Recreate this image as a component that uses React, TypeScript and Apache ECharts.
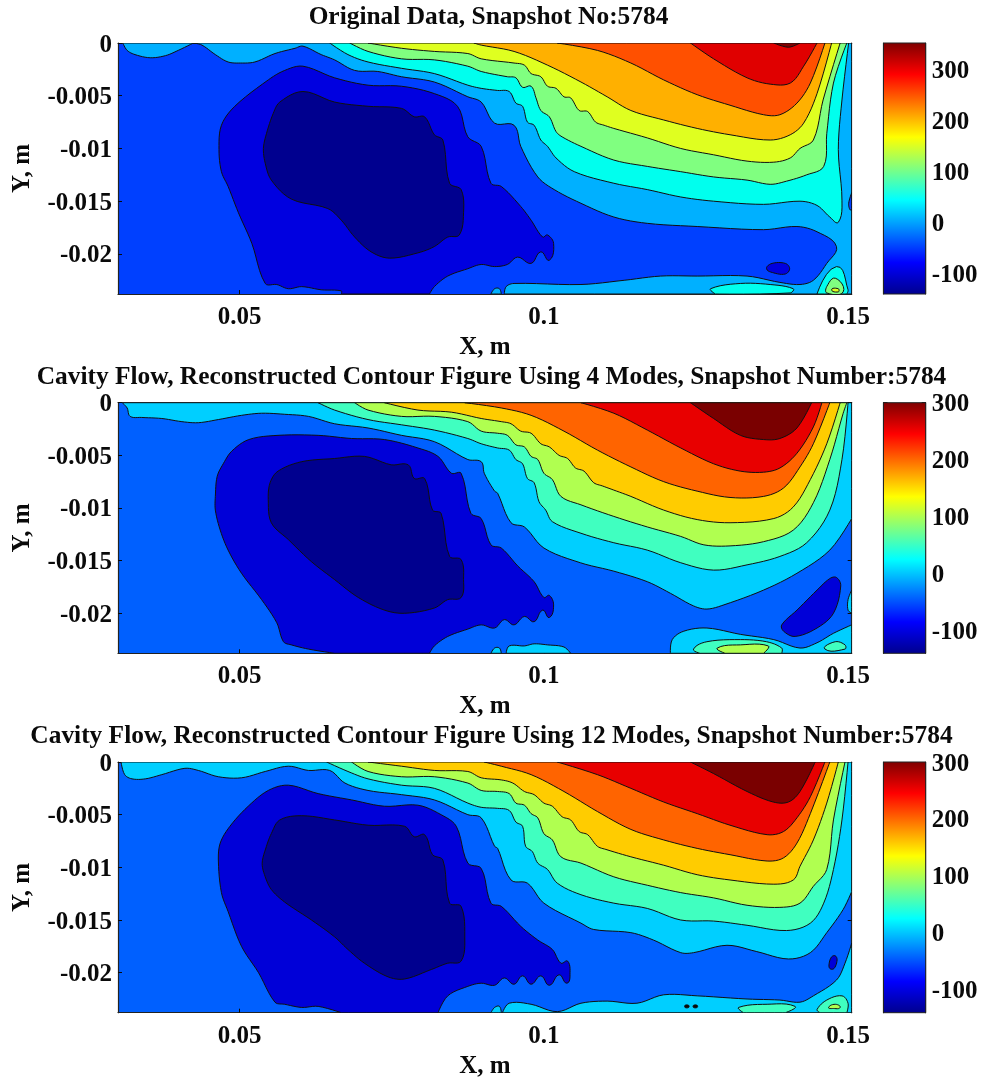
import React, { useEffect, useRef } from "react";
import * as echarts from "echarts";

// ---------- axis data ----------
const xRange = [0.03, 0.1506];
const yRange = [-0.0238, 0];
const xTickValues = [0.05, 0.1, 0.15];
const yTickValues = [0, -0.005, -0.01, -0.015, -0.02];
const barTicks1 = [-100, 0, 100, 200, 300];
const barTicks2 = [-100, 0, 100, 200, 300];
const barRange1 = [-141, 351];
const barRange2 = [-141, 300];
const titles = [
  "Original Data, Snapshot No:5784",
  "Cavity Flow, Reconstructed Contour Figure Using 4 Modes, Snapshot Number:5784",
  "Cavity Flow, Reconstructed Contour Figure Using 12 Modes, Snapshot Number:5784",
];

// ---------- contour outlines, flat x,y lists in millimetres ----------
const p1L1 = [30.8,0,31.5,-0.7,32.8,-1.1,35.3,-1.4,37.8,-1.2,39.9,-0.7,42.4,0,43.8,-0.2,46,-1.1,48.1,-1.8,50.1,-1.9,52.5,-1.8,55.8,-1,59.1,-0.5,60.4,-0.3,63.4,-1.1,65.6,-1.6,68.9,-2.6,72.7,-2.7,76.6,-3.2,82,-3.7,87.5,-5.1,89.7,-5.6,91.9,-7.6,95.1,-7.8,96.2,-9.8,99,-12.7,101.7,-13.9,106.1,-15.2,111.5,-16.5,117,-17.1,125.2,-17.4,136.1,-17.7,141.6,-17.4,144.9,-17.9,148.1,-19.3,146.5,-20.9,144.3,-22.5,142.1,-22.9,138.8,-22.7,133.4,-22.1,125.2,-22.1,119.2,-22.1,113.2,-22.5,106.1,-22.9,95.1,-22.8,93.8,-23.1,93.5,-23.8,150.6,-23.8,150.6,0];
const p1L2 = [64.8,0,67.8,-1.1,71.1,-1.8,76.6,-2.4,82,-2.9,87.5,-4,89.7,-4.3,92.4,-4.5,94.3,-4.6,95.4,-5.7,96.5,-6,97.3,-7.5,98.4,-7.8,99.5,-9.2,100.6,-9.8,102,-10.9,105,-12.2,111.5,-13.3,117,-13.9,122.5,-14.6,127.9,-15,136.1,-15.3,142.1,-15,144.9,-15.4,147,-16.5,148.4,-17,149,-14.9,148.4,-10.1,149,-5.4,150.1,0];
const p1L3 = [68.1,0,71.1,-0.8,76.6,-1.5,82,-1.6,87.5,-2.2,89.7,-2.7,94,-3.2,95.4,-3.3,96.5,-4.2,97.9,-4.1,98.7,-5.2,99.5,-6.4,100.9,-7,102,-8.4,103,-8.9,106.1,-9.8,111.5,-11.1,117,-11.7,122.5,-12.2,127.9,-12.7,133.4,-13,137.2,-13.4,139.9,-13.1,143.2,-12.5,146,-11.7,146.5,-8.6,147.6,-3.8,149.8,0];
const p1L4 = [71.1,0,76.6,-0.5,82,-0.8,87.5,-1,89.7,-1.5,95.1,-1.9,96.8,-2.1,97.9,-2.9,99.5,-3.2,100.6,-4.1,102,-4.3,103.3,-5.1,104.4,-5.2,105.8,-6.4,107.2,-6.5,108.5,-7.5,109.9,-7.8,111.5,-8.1,117,-9,122.5,-10,127.9,-10.6,133.4,-11.2,137.8,-11.3,140.5,-10.9,142.1,-10,144.3,-9.2,145.9,-5.4,148.7,0];
const p1L5 = [88.5,0,89.7,-0.2,95.1,-0.8,100.6,-2.1,106.1,-3.7,110.4,-5.1,114.3,-6.4,119.7,-7.3,125.2,-8.1,130.6,-8.7,137.2,-9.2,140.5,-8.7,142.7,-7.6,144.9,-4.8,147.3,0];
const p1L6 = [102.2,0,108.8,-0.7,114.3,-1.9,119.7,-3.5,125.2,-4.9,130.6,-5.9,136.1,-6.8,138.8,-6.8,141.6,-5.7,143.8,-3.8,146.2,0];
const p1L7 = [124.1,0,127.9,-1.5,133.4,-3.3,137.2,-3.9,140.5,-3.8,142.7,-2.2,144.9,0];
const p1L8 = [137.8,0,140.2,-0.4,142.1,0];
const p1D1 = [60.4,-2.2,65.6,-3.3,71.1,-4,76.6,-4.1,82,-4.8,85.8,-6,87.5,-8.9,89.7,-9.8,91.3,-13.3,93,-13.6,96.2,-15.5,97.9,-16.8,99.8,-18.4,100.6,-18.2,101.6,-19,100.9,-20.6,99.5,-19.8,97.9,-20.9,95.7,-20.3,94,-21,91.9,-21.2,89.7,-21,87.5,-21.4,84.2,-22.1,82,-23.1,81.2,-23.8,66.7,-23.8,66.7,-23.5,63.4,-23.4,60.2,-23.1,58,-23.3,56.1,-22.9,54.2,-22.8,52,-19,49.8,-16.1,48.1,-13.6,47,-12.2,46.6,-10.1,47,-7.8,49.2,-6,54.7,-3.5,57.4,-2.6];
const p1D2 = [53.9,-10,54.4,-8.6,55.5,-6.7,56.6,-5.6,60.4,-4.6,65.6,-5.6,71.1,-6,76.6,-6.2,78.7,-7,80.4,-7,82,-8.7,83.4,-9.2,84.5,-13.3,86.4,-13.9,86.8,-16.1,86.1,-18.2,84.2,-18.4,82,-19.3,79.3,-19.9,74.6,-20.4,71.6,-19.8,68.9,-18.4,66.7,-16.8,64.5,-15.7,58.5,-14.8,55.2,-13,54.2,-11.4];
const p1Blob = [137.5,-20.9,139.7,-20.9,140.4,-21.4,139.7,-21.9,137.8,-21.8,136.6,-21.4];
const p1Corner2 = [144.9,-23.8,148.1,-21.2,150,-23.4,149.8,-23.8];
const p1Corner3 = [146.5,-23.1,147.9,-22.3,149.2,-23.6,146.5,-23.7];
const p1Corner4 = [147.3,-23.4,148.4,-23.3,148.4,-23.6];
const p1Patch = [127.4,-23.3,132.3,-22.8,137.2,-22.9,141,-23.3,140.5,-23.7,128.2,-23.8];
const p1Bump = [91.3,-23.8,91.9,-23.3,92.7,-23.3,93,-23.8];
const p1Edge = [150.6,-14.2,150.1,-15.2,150.3,-15.8,150.6,-15.8];

const p2L1 = [30.7,0,31.5,-0.5,32,-1.3,33.9,-1.4,37.2,-1.5,40.5,-1.8,43.2,-1.9,46.5,-1.6,50.3,-1.2,53.6,-1,57.4,-1.1,61.3,-1.3,65.6,-2,71.1,-2.4,76.6,-3.1,82,-3.7,87.5,-5.4,89.7,-5.6,90.2,-6.7,91.9,-8.4,92.4,-8.6,94.6,-11.4,96.8,-11.8,100,-13.8,106,-15.2,111.5,-16,117,-17,120.8,-18.1,124.6,-19.3,126.8,-19.6,129.6,-19.2,136.1,-17.8,141.6,-16.2,147,-14,150.6,-11,150.6,0];
const p2L2 = [62.9,0,65.6,-0.7,71.1,-1.6,76.6,-2.1,82,-2.6,87.5,-3.4,89.7,-3.9,92.4,-4.3,94.3,-4.5,95.4,-5.4,96.5,-5.8,97.3,-7.2,98.4,-7.6,99.2,-9.4,100.3,-10.2,101.4,-11.3,106.1,-12.4,111.5,-13.3,117,-14,122.5,-15.2,127.9,-15.9,133.4,-15.4,138.8,-14.6,143.2,-13.3,147,-10.2,149,-5.4,150,0];
const p2L3 = [68.9,0,71.1,-0.7,76.6,-1.3,82,-1.3,87.5,-1.8,89.7,-2.7,92.4,-2.9,94,-3.1,95.4,-4,96.8,-4.2,97.9,-5.1,99,-5.4,100,-6.7,101.4,-7.3,102.8,-8.9,106.1,-9.7,111.5,-10.8,117,-11.8,122.5,-12.7,126.3,-13.5,130.6,-13.6,136.1,-13.2,141,-12.1,144.3,-9.5,147,-5.4,149.2,-1,149.8,0];
const p2L4 = [73.8,0,79.3,-0.7,84.8,-0.9,89.7,-1.5,93,-1.8,94.6,-2,96.2,-2.7,97.9,-2.9,99.5,-3.9,100.9,-4.2,102.5,-5,103.9,-5.3,105.2,-6.2,106.6,-6.5,108.2,-7.6,109.6,-7.9,111.5,-8.3,114.3,-8.9,119.7,-10.2,125.2,-11.1,130.6,-11.4,137.8,-11,141,-9.9,143.8,-7.3,146.5,-3.9,148.7,0];
const p2L5 = [87,0,93,-0.5,97.9,-1.2,103.3,-2.7,108.8,-4.5,114.3,-6.1,119.7,-7.5,125.2,-8.4,130.6,-9,136.1,-8.9,139.4,-8.1,142.1,-6.1,144.3,-3.9,147,0];
const p2L6 = [106.1,0,111.5,-1,117,-2.6,122.5,-4.3,127.9,-5.8,132.3,-6.5,136.1,-6.6,138.8,-6.2,141.6,-4.8,144.3,-2.3,145.7,0];
const p2L7 = [124.1,0,127.9,-1.5,132.3,-3.1,136.1,-3.5,138.8,-3.4,141.6,-2.4,144,0];
const p2D1 = [46,-8.9,46.3,-7,47.3,-5.8,48.7,-4.6,51.5,-3.5,56.3,-3.1,62.9,-3.1,68.4,-3.4,73.8,-3.5,79.3,-4.3,82.6,-5.1,84.8,-6.7,86.4,-6.7,88,-10.5,89.7,-11,91.3,-13.5,93,-13.8,95.7,-15.5,98.4,-17,100,-18.5,100.9,-18.3,101.6,-19.2,100.9,-20.4,99.8,-19.7,98.4,-20.8,96.8,-20.3,95.1,-21.1,93.5,-20.6,91.9,-21.4,89.7,-21.1,87.5,-21.5,84.2,-22.2,82,-23.1,81.2,-23.8,65.6,-23.8,61.3,-23.4,58.5,-23,57.2,-22.7,56.1,-20.9,53.6,-18.7,50.3,-16.2,48.1,-14,46.8,-12.1,46,-10.2];
const p2D2 = [54.7,-9.2,55,-7.6,56.3,-6.5,60.2,-5.6,65.6,-5.3,70.5,-5.1,74.9,-5.9,77.7,-5.9,78.7,-7.2,80.4,-7.2,81.7,-10.2,83.1,-10.5,84.5,-14.6,86.4,-14.9,86.8,-16.8,86.4,-18.5,84.2,-18.7,82,-19.5,77.1,-20,73.8,-19.7,69.5,-18.5,65.6,-16.8,61.8,-15.1,58,-13,55.2,-11.4];
const p2Blob = [148.1,-16.6,148.8,-17.4,147.6,-20,144.9,-21.4,141.3,-22.2,139.4,-21.7,139.1,-21.1,141.6,-19.7,144.9,-17.8,147,-16.7];
const p2Patch1 = [120.8,-23.8,121.1,-22.5,123,-21.7,126.8,-21.4,132.3,-22,137.8,-22.5,142.1,-23.3,144.9,-22.8,147.6,-21.9,150.6,-21.1,150.6,-23.8];
const p2Patch2 = [124.6,-23.4,126.8,-22.7,132.3,-22.5,136.6,-22.7,139.1,-23.3,139.1,-23.8,125.7,-23.8];
const p2Patch3 = [128.5,-23.3,132.3,-23,136.9,-23.1,136.1,-23.8,129.8,-23.8];
const p2Small = [146.2,-23.4,147.9,-22.7,149.5,-23,149.5,-23.4];
const p2Strip = [93.8,-23.8,94.3,-23.1,96.8,-23.1,98.4,-22.9,100.6,-23,103.3,-23.2,104.4,-23.8];
const p2Bump = [91.3,-23.8,91.9,-23.3,92.7,-23.3,93,-23.8];
const p2Edge = [150.6,-17.8,150,-18.7,150,-19.7,150.6,-20];

const p3L1 = [30.5,0,31.1,-1.2,32.3,-1.6,34.5,-1.6,37.2,-1.2,41,-0.6,43.2,-0.8,46.5,-1.4,50.3,-1.5,54.2,-0.9,58,-0.4,61.3,-0.8,64.8,-0.8,67.3,-2,71.1,-2.7,76.6,-3.1,82,-3.6,87.5,-5,89.7,-5.3,91.9,-8,92.4,-8.2,94.6,-11.2,97.3,-11.5,100,-13.4,106.1,-15.3,108.2,-15.9,114.3,-16.2,118,-16.9,122.5,-18.1,124.6,-18.1,130.1,-17.4,135,-18,140.2,-18.7,143.8,-18.1,146.5,-16.2,149.2,-14,150.6,-12.3,150.6,0];
const p3Low = [150.6,-17.2,149.5,-19.1,148.1,-20.7,144.3,-22.2,142.1,-22.8,138.8,-22.6,133.4,-22.5,125.2,-22.2,119.7,-22.1,115.3,-22.9,110.4,-22.7,106.1,-22.9,102.2,-23.7,97.9,-23,94.3,-22.9,93.2,-23.8,150.6,-23.8];
const p3L2 = [64.3,0,67.8,-0.9,71.1,-1.6,76.6,-2.2,82,-2.5,87.5,-3.9,89.7,-4.3,92.4,-4.4,94.3,-4.6,95.4,-5.7,96.5,-6.1,97,-8,98.1,-8.5,99,-9.6,100.6,-10.2,102.2,-11.5,106.1,-12.6,111.5,-13.4,117,-13.9,122.5,-15,127.9,-15.1,133.4,-15.5,139.9,-16,143.8,-15.3,146,-13.4,147.6,-10.2,149,-5.5,150,0];
const p3L3 = [68.4,0,71.1,-0.9,76.6,-1.4,82,-1.4,87.5,-2,89.7,-2.7,92.4,-2.8,94.3,-3,95.4,-3.9,96.8,-4.1,97.9,-4.9,99,-5.3,100,-6.8,101.4,-7.4,102.8,-9,106.1,-9.6,111.5,-10.9,117,-11.7,122.5,-12.4,127.9,-12.9,133.4,-13.6,138.8,-13.8,142.1,-13.4,144.3,-11.8,146.5,-10.2,147.6,-5.5,149.5,0];
const p3L4 = [71.1,0,76.6,-0.4,82,-0.8,87.5,-0.9,89.7,-1.5,93,-1.7,94.9,-2,96.8,-2.8,98.4,-3.1,100,-3.9,101.4,-4.2,103,-5.2,104.4,-5.5,105.8,-6.6,107.2,-6.9,108.8,-8,110.2,-8.3,114.3,-9,119.7,-9.8,125.2,-10.7,130.6,-11.2,137.8,-11.6,141,-11.2,142.1,-9.9,144.3,-7.4,146.5,-3.9,148.4,0];
const p3L5 = [90.2,0,93,-0.4,97.9,-1.2,103.3,-2.8,108.8,-4.7,114.3,-6.4,119.7,-7.4,125.2,-8.2,130.6,-8.8,136.7,-9.4,139.4,-9.1,141.6,-7.7,143.8,-4.9,147,0];
const p3L6 = [102.2,0,108.8,-1.2,114.3,-2.5,119.7,-3.8,125.2,-4.9,130.6,-6,136.7,-6.9,139.4,-6.6,141.6,-5.3,143.8,-3.3,146.2,0];
const p3L7 = [124.1,0,127.9,-1.1,133.4,-2.8,137.7,-3.8,140.2,-3.8,142.1,-2.8,144.6,0];
const p3D1 = [46.5,-9.4,46.8,-7.7,48.4,-6.1,51.4,-4.2,54.7,-2.7,58,-2.2,62.9,-3,68.4,-3.6,73.8,-4.2,79.3,-4.1,83.1,-5,85.6,-6.1,87.5,-9.6,89.7,-10.1,91.3,-13.4,93,-13.7,96.2,-15.6,99,-16.9,101.4,-17.8,102.8,-19.1,103.9,-18.9,104.3,-20,103.8,-21,102.5,-20.2,100.9,-21.2,99.5,-20.3,97.9,-21.1,96.5,-20.3,95.1,-21.1,93.5,-20.5,91.9,-21.2,89.7,-21,87.5,-21.3,84.2,-22.2,82.6,-23.8,66.7,-23.8,62.9,-23.2,60.2,-23.3,57.4,-23,55.8,-22.8,53.1,-20,50.3,-17.5,48.1,-14.2,47,-12.4];
const p3D2 = [53.7,-9.6,54.4,-8,55.2,-6.8,56.6,-5.5,60.2,-5.1,65.6,-5.5,71.1,-6,77.1,-6.1,78.7,-7.1,80.4,-6.9,81.7,-8.8,83.4,-9.3,84.5,-13.4,86.4,-13.7,87,-16.6,86.4,-18.9,84.2,-19.1,81.5,-19.7,77.1,-20.6,74.4,-20.4,70.5,-19.1,67.8,-17.8,65.6,-16.6,61.8,-15,57.4,-13.3,55.2,-12.1,54.2,-10.9];
const p3Blob = [147.9,-18.4,148.2,-18.8,147.7,-19.6,147,-19.6,146.9,-19.1,147.3,-18.5];
const p3Patch = [132,-23.3,136.7,-23,141.3,-23.2,139.7,-23.8,132.8,-23.8];
const p3Corner2 = [144.9,-23.5,146.5,-22.6,149,-22.2,150,-22.9,149.8,-23.8,145.4,-23.8];
const p3Corner3 = [146.8,-23.3,147.9,-23,148.7,-23.3,147.6,-23.4];
const p3Bump = [91.3,-23.8,91.9,-23.3,92.7,-23.2,93,-23.8];
const p3DotA = [123.2,-23.1,123.8,-23.1,123.8,-23.3,123.2,-23.3];
const p3DotB = [124.6,-23.1,125.2,-23.1,125.2,-23.3,124.6,-23.3];

// ---------- styles ----------
const FONT = "Liberation Serif";
const INK = "#0a0a0a";
const P1 = { bg: "#0040ff", d2: "#00008f", d1: "#0000e0", l1: "#00b0ff", l2: "#00ffee", l3: "#80ff80", l4: "#dfff20", l5: "#ffb000", l6: "#ff5000", l7: "#e00000", l8: "#800000" };
const P2 = { bg: "#0060ff", d2: "#00008f", d1: "#0000d8", l1: "#00cfff", l2: "#40ffc0", l3: "#b0ff50", l4: "#ffcc00", l5: "#ff6400", l6: "#e80000", l7: "#7a0000" };

const panels: any[] = [
  { top: 43, height: 251, bar: barRange1, ticks: barTicks1, bg: P1.bg, title: titles[0], titleTop: -3, titleX: 483.5, regions: [
    [p1L1, P1.l1], [p1Bump, P1.l1], [p1L2, P1.l2], [p1L3, P1.l3], [p1L4, P1.l4], [p1L5, P1.l5], [p1L6, P1.l6], [p1L7, P1.l7], [p1L8, P1.l8],
    [p1D1, P1.d1], [p1D2, P1.d2], [p1Blob, P1.d1], [p1Corner2, P1.l2], [p1Corner3, P1.l3], [p1Corner4, P1.l4], [p1Patch, P1.l2], [p1Edge, P1.bg],
  ] },
  { top: 402.7, height: 250.6, bar: barRange2, ticks: barTicks2, bg: P2.bg, title: titles[1], titleTop: 357, titleX: 486.5, regions: [
    [p2L1, P2.l1], [p2L2, P2.l2], [p2L3, P2.l3], [p2L4, P2.l4], [p2L5, P2.l5], [p2L6, P2.l6], [p2L7, P2.l7],
    [p2D1, P2.d1], [p2D2, P2.d2], [p2Blob, P2.d1], [p2Patch1, P2.l1], [p2Patch2, P2.l2], [p2Patch3, P2.l3], [p2Small, P2.l2], [p2Strip, P2.l1], [p2Bump, P2.l1], [p2Edge, P2.l1],
  ] },
  { top: 762, height: 250.7, bar: barRange2, ticks: barTicks2, bg: P2.bg, title: titles[2], titleTop: 716, titleX: 486.5, regions: [
    [p3L1, P2.l1], [p3Low, P2.l1], [p3Bump, P2.l1], [p3L2, P2.l2], [p3L3, P2.l3], [p3L4, P2.l4], [p3L5, P2.l5], [p3L6, P2.l6], [p3L7, P2.l7],
    [p3D1, P2.d1], [p3D2, P2.d2], [p3Blob, P2.d1], [p3Patch, P2.l2], [p3Corner2, P2.l2], [p3Corner3, P2.l3], [p3DotA, INK], [p3DotB, INK],
  ] },
];

const jetStops = [
  { offset: 0, color: "#800000" },
  { offset: 0.125, color: "#ff0000" },
  { offset: 0.375, color: "#ffff00" },
  { offset: 0.625, color: "#00ffff" },
  { offset: 0.875, color: "#0000ff" },
  { offset: 1, color: "#00008f" },
];

const labelStyle = { fontFamily: FONT, fontWeight: "bold", fontSize: 25, color: INK };

// Rounds an outline (already mapped through the axes) for drawing; vertices on the plot edge stay sharp.
function roundOutline(px: number[][], sharp: boolean[]): number[][] {
  const n = px.length;
  const out: number[][] = [];
  const tan = px.map((p, i) => {
    if (sharp[i]) return null;
    const a = px[(i - 1 + n) % n];
    const b = px[(i + 1) % n];
    const dx = b[0] - a[0];
    const dy = b[1] - a[1];
    const l = Math.hypot(dx, dy) || 1;
    return [dx / l, dy / l];
  });
  for (let i = 0; i < n; i++) {
    const j = (i + 1) % n;
    const p = px[i];
    const q = px[j];
    const len = Math.hypot(q[0] - p[0], q[1] - p[1]);
    const ti = tan[i];
    const tj = tan[j];
    const c1 = ti ? [p[0] + (ti[0] * len) / 3, p[1] + (ti[1] * len) / 3] : p;
    const c2 = tj ? [q[0] - (tj[0] * len) / 3, q[1] - (tj[1] * len) / 3] : q;
    for (let s = 0; s < 6; s++) {
      const t = s / 6;
      const u = 1 - t;
      out.push([
        u * u * u * p[0] + 3 * u * u * t * c1[0] + 3 * u * t * t * c2[0] + t * t * t * q[0],
        u * u * u * p[1] + 3 * u * u * t * c1[1] + 3 * u * t * t * c2[1] + t * t * t * q[1],
      ]);
    }
  }
  return out;
}

function buildOption(): any {
  const grid: any[] = [];
  const xAxis: any[] = [];
  const yAxis: any[] = [];
  const series: any[] = [];
  const title: any[] = [];
  const tick = { show: true, inside: true, length: 4, lineStyle: { color: INK, width: 1 } };
  const axisLine = { show: true, onZero: false, lineStyle: { color: "#222222", width: 1.2 } };

  panels.forEach((p) => {
    title.push({ text: p.title, left: p.titleX, top: p.titleTop, textAlign: "center", textStyle: { ...labelStyle, fontSize: 25.4 } });
    const g = grid.length;
    grid.push({ left: 116, top: p.top, width: 735.7, height: p.height, show: true, backgroundColor: p.bg, borderWidth: 0 });
    const xi = xAxis.length;
    const yi = yAxis.length;
    xAxis.push({
      type: "value", gridIndex: g, position: "bottom", min: xRange[0], max: xRange[1], name: "X, m", nameLocation: "middle", nameGap: 39,
      nameTextStyle: labelStyle, splitLine: { show: false }, axisLine, axisTick: { ...tick, customValues: xTickValues },
      axisLabel: { ...labelStyle, margin: 9, customValues: xTickValues, formatter: (v: number) => String(v) },
    });
    xAxis.push({
      type: "value", gridIndex: g, position: "top", min: xRange[0], max: xRange[1], splitLine: { show: false }, axisLine,
      axisTick: { ...tick, customValues: xTickValues }, axisLabel: { show: false },
    });
    yAxis.push({
      type: "value", gridIndex: g, position: "left", min: yRange[0], max: yRange[1], name: "Y, m", nameLocation: "middle", nameGap: 85, nameRotate: 90,
      nameTextStyle: labelStyle, splitLine: { show: false }, axisLine, axisTick: { ...tick, customValues: yTickValues },
      axisLabel: { ...labelStyle, margin: 6, customValues: yTickValues, formatter: (v: number) => String(v) },
    });
    yAxis.push({
      type: "value", gridIndex: g, position: "right", min: yRange[0], max: yRange[1], splitLine: { show: false }, axisLine,
      axisTick: { ...tick, customValues: yTickValues }, axisLabel: { show: false },
    });
    const regions = p.regions;
    series.push({
      type: "custom", xAxisIndex: xi, yAxisIndex: yi, clip: true, silent: true, z: 1,
      data: regions.map((_: any, i: number) => [i]),
      renderItem: (_params: any, api: any) => {
        const [flat, fill] = regions[api.value(0)];
        const px: number[][] = [];
        const sharp: boolean[] = [];
        for (let k = 0; k < flat.length; k += 2) {
          px.push(api.coord([flat[k] / 1000, flat[k + 1] / 1000]));
          sharp.push(flat[k + 1] === 0 || flat[k + 1] <= -23.8 || flat[k] >= 150.6);
        }
        return { type: "polygon", shape: { points: roundOutline(px, sharp) }, style: { fill, stroke: "#101010", lineWidth: 1 } };
      },
    });

    // colour bar
    const gb = grid.length;
    grid.push({ left: 883.5, top: p.top, width: 42.2, height: p.height, show: false });
    const xb = xAxis.length;
    const yb = yAxis.length;
    xAxis.push({ type: "value", gridIndex: gb, min: 0, max: 1, show: false });
    yAxis.push({
      type: "value", gridIndex: gb, position: "right", min: p.bar[0], max: p.bar[1], splitLine: { show: false }, axisLine,
      axisTick: { ...tick, customValues: p.ticks }, axisLabel: { ...labelStyle, margin: 6, customValues: p.ticks, formatter: (v: number) => String(v) },
    });
    yAxis.push({
      type: "value", gridIndex: gb, position: "left", min: p.bar[0], max: p.bar[1], splitLine: { show: false }, axisLine,
      axisTick: { ...tick, customValues: p.ticks }, axisLabel: { show: false },
    });
    series.push({
      type: "custom", xAxisIndex: xb, yAxisIndex: yb, silent: true, z: 1,
      data: [[0, p.bar[0], 1, p.bar[1]]],
      renderItem: (_params: any, api: any) => {
        const a = api.coord([api.value(0), api.value(3)]);
        const b = api.coord([api.value(2), api.value(1)]);
        return {
          type: "rect",
          shape: { x: a[0], y: a[1], width: b[0] - a[0], height: b[1] - a[1] },
          style: { fill: new echarts.graphic.LinearGradient(0, 0, 0, 1, jetStops), stroke: "#222222", lineWidth: 1 },
        };
      },
    });
  });
  return { animation: false, backgroundColor: "#ffffff", title, grid, xAxis, yAxis, series };
}

export default function App() {
  const ref = useRef<HTMLDivElement>(null);
  useEffect(() => {
    const chart = echarts.init(ref.current as HTMLDivElement, undefined, { renderer: "svg" });
    chart.setOption(buildOption());
    return () => chart.dispose();
  }, []);
  return <div ref={ref} style={{ position: "absolute", left: 0, top: 0, width: 984, height: 1081, filter: "blur(0.4px)" }} />;
}
